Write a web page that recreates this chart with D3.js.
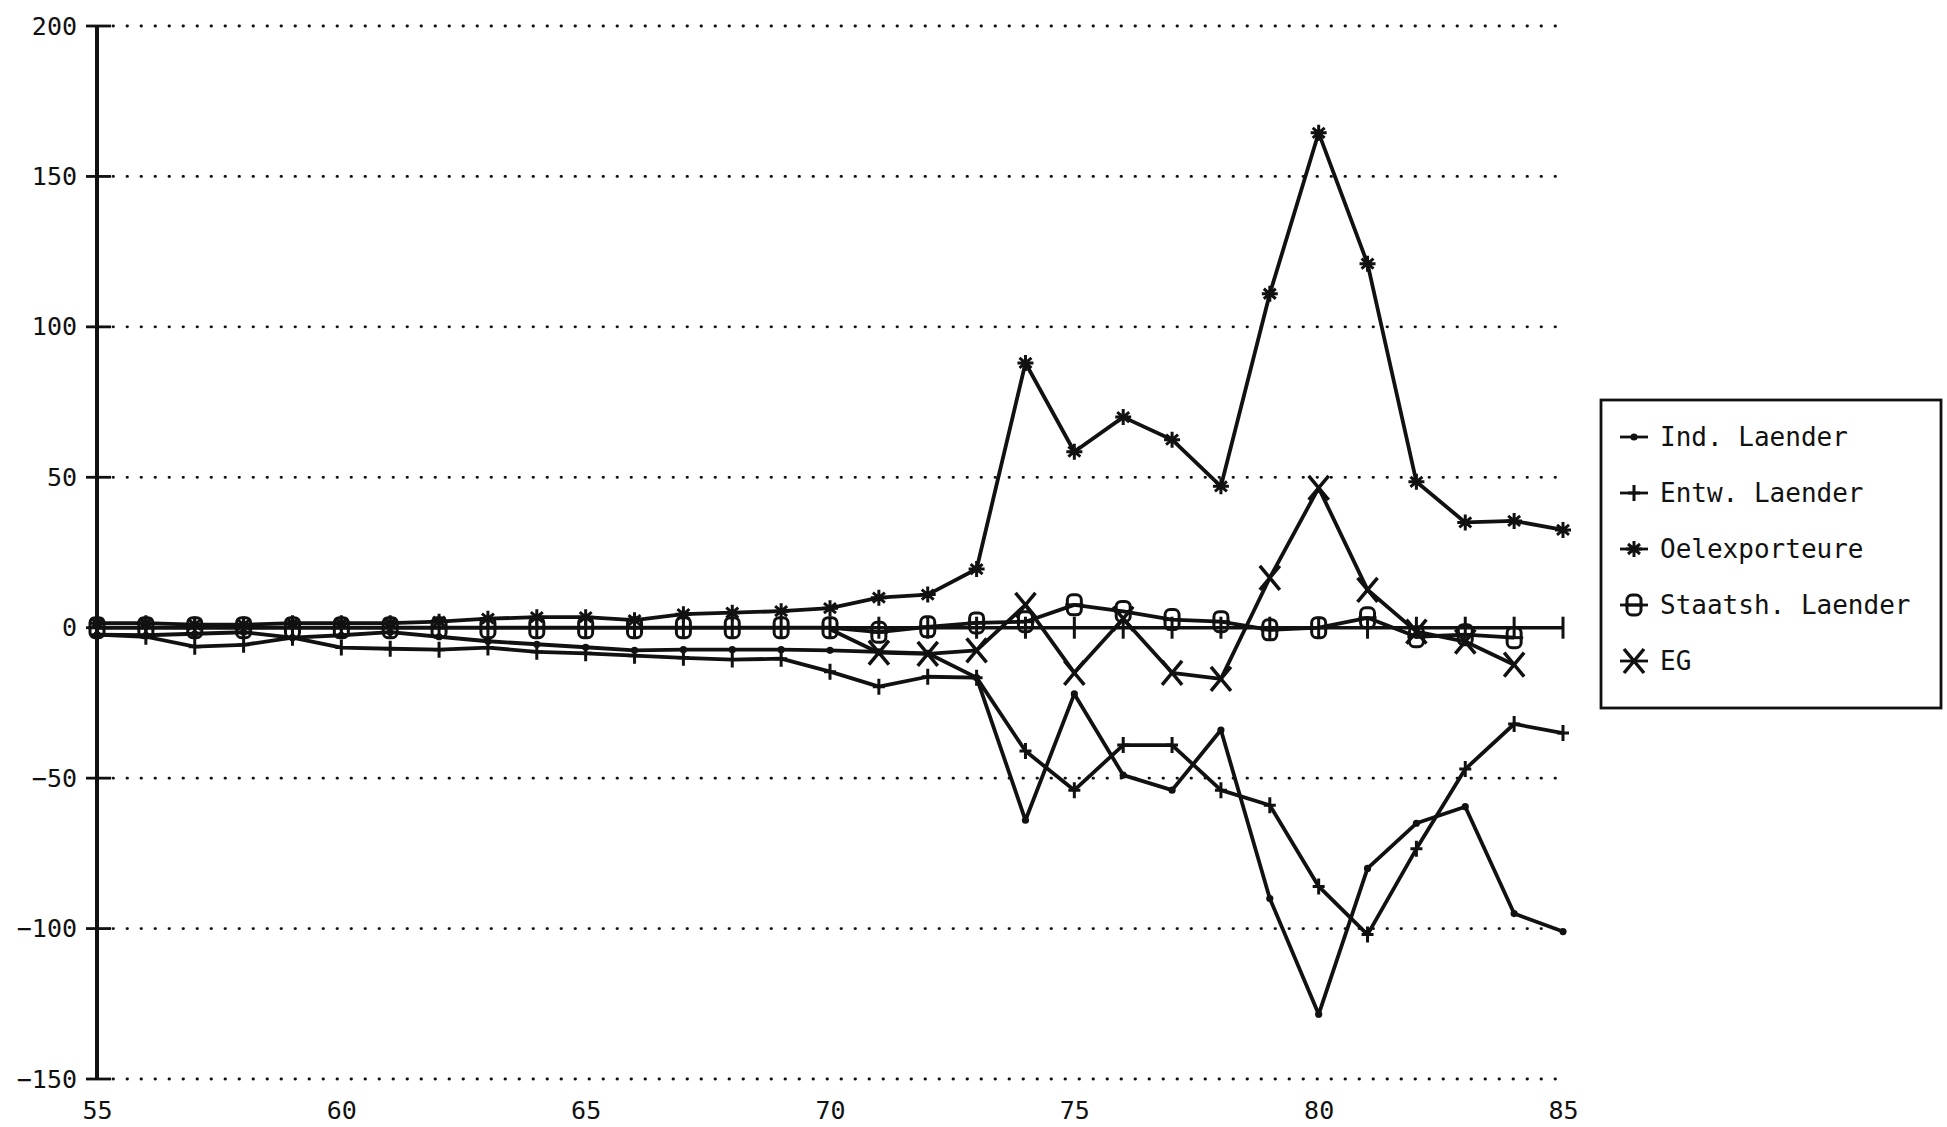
<!DOCTYPE html>
<html>
<head>
<meta charset="utf-8">
<script src="https://cdn.jsdelivr.net/npm/d3@7"></script>
<style>
  body { margin: 0; background: #fff; }
  text { font-family: "DejaVu Sans Mono", monospace; fill: #111; }
</style>
</head>
<body>
<div id="chart"></div>
<script>
// Data (years 55..85)
const years = d3.range(55, 86);
const indLaender = [-2.3, -2.5, -2, -1.5, -3.3, -2.5, -1.5, -3, -4.5, -5.5, -6.5, -7.5, -7.3, -7.3, -7.3, -7.5,
  -8, -8.5, -16.6, -64, -22, -49, -54, -34, -90, -128.5, -80, -65, -59.5, -95, -101];
const entwLaender = [-2.3, -3, -6.3, -5.7, -3.3, -6.6, -7, -7.3, -6.6, -8, -8.5, -9.3, -10, -10.6, -10.3, -14.6,
  -19.6, -16.3, -16.6, -41, -54, -39, -39, -54, -59, -86, -102, -73.5, -47, -32, -35];
const oelexporteure = [1.5, 1.5, 1, 1, 1.5, 1.5, 1.5, 2, 3, 3.5, 3.5, 2.5, 4.5, 5, 5.5, 6.5,
  10, 11, 19.5, 88, 58.5, 70, 62.5, 47, 111, 164.5, 121, 48.5, 35, 35.5, 32.5];
const staatshLaender = [0, 0, 0, 0, 0, 0, 0, 0, 0, 0, 0, 0, 0, 0, 0, 0,
  -1.5, 0.3, 1.6, 2, 7.6, 5.4, 2.7, 2, -0.7, 0, 3.3, -3, -2.3, -3.3, null];
const eg = [null, null, null, null, null, null, null, null, null, null, null, null, null, null, null, -0.5,
  -8.3, -8.7, -7.5, 7.6, -15, 3, -15, -17, 16.6, 46.5, 12.6, -1.3, -4.6, -12.3, null];

const seriesNames = ["Ind. Laender", "Entw. Laender", "Oelexporteure", "Staatsh. Laender", "EG"];
const seriesValues = [indLaender, entwLaender, oelexporteure, staatshLaender, eg];
const markerTypes = ["dot", "plus", "star", "box", "x"];
// first year that carries a visible marker for each series
const markerFrom = [55, 55, 55, 55, 71];

const xTickLabels = [55, 60, 65, 70, 75, 80, 85];
const yTickValues = [-150, -100, -50, 0, 50, 100, 150, 200];

const WIDTH = 1947;
const HEIGHT = 1127;
const INK = "#111";

var svg = d3.select("#chart").append("svg")
  .attr("width", WIDTH)
  .attr("height", HEIGHT);

var x = d3.scaleLinear().domain([55, 85]).range([97, 1563]);
var y = d3.scaleLinear().domain([-150, 200]).range([1079, 26]);

// Dotted grid lines (not at 0, that one is the solid axis)
svg.append("g")
  .selectAll("line")
  .data(yTickValues.filter(d => d !== 0))
  .enter()
  .append("line")
  .attr("x1", 113)
  .attr("x2", 1568)
  .attr("y1", d => y(d))
  .attr("y2", d => y(d))
  .attr("stroke", INK)
  .attr("stroke-width", 2.8)
  .attr("stroke-linecap", "round")
  .attr("stroke-dasharray", "0.5 13.5");

// Y axis with labels
var yAxis = d3.axisLeft(y).tickValues(yTickValues).tickSize(0).tickPadding(20);
var gy = svg.append("g").attr("transform", `translate(${x(55)},0)`).call(yAxis);
gy.select(".domain").remove();
gy.selectAll("text")
  .style("font-size", "25px")
  .style("font-family", "'DejaVu Sans Mono', monospace")
  .attr("fill", INK);

svg.append("line")
  .attr("x1", x(55)).attr("x2", x(55))
  .attr("y1", y(200)).attr("y2", y(-150))
  .attr("stroke", INK).attr("stroke-width", 4);

svg.append("g")
  .selectAll("line")
  .data(yTickValues)
  .enter()
  .append("line")
  .attr("x1", x(55) - 11)
  .attr("x2", x(55) + 14)
  .attr("y1", d => y(d))
  .attr("y2", d => y(d))
  .attr("stroke", INK)
  .attr("stroke-width", 2.8);

// X axis at zero with a tick per year
svg.append("line")
  .attr("x1", x(55)).attr("x2", x(85))
  .attr("y1", y(0)).attr("y2", y(0))
  .attr("stroke", INK).attr("stroke-width", 3.6);

svg.append("g")
  .selectAll("line")
  .data(years)
  .enter()
  .append("line")
  .attr("x1", d => x(d)).attr("x2", d => x(d))
  .attr("y1", y(0) - 11).attr("y2", y(0) + 11)
  .attr("stroke", INK).attr("stroke-width", 3);

// X labels at the bottom
var xAxis = d3.axisBottom(x).tickValues(xTickLabels).tickSize(0).tickPadding(22);
var gx = svg.append("g").attr("transform", `translate(0,${y(-150)})`).call(xAxis);
gx.select(".domain").remove();
gx.selectAll("text")
  .style("font-size", "25px")
  .style("font-family", "'DejaVu Sans Mono', monospace")
  .attr("fill", INK);

/**
 * Draws one marker of the given type at (cx, cy)
 */
function drawMarker(g, type, cx, cy) {
  var m = g.append("g").attr("transform", `translate(${cx},${cy})`);
  if (type === "dot") {
    m.append("circle").attr("r", 3.6).attr("fill", INK);
  } else if (type === "plus") {
    m.append("path").attr("d", "M0,-8V8M-6,0H6")
      .attr("stroke", INK).attr("stroke-width", 3);
  } else if (type === "star") {
    m.append("path").attr("d", "M0,-8V8M-6,-5L6,5M-6,5L6,-5M-8,0H8")
      .attr("stroke", INK).attr("stroke-width", 3);
  } else if (type === "box") {
    m.append("rect").attr("x", -7).attr("y", -10).attr("width", 14).attr("height", 20)
      .attr("rx", 5).attr("fill", "none")
      .attr("stroke", INK).attr("stroke-width", 3);
    m.append("path").attr("d", "M-9,0H9").attr("stroke", INK).attr("stroke-width", 3);
  } else if (type === "x") {
    m.append("path").attr("d", "M-10,-12L10,12M-10,12L10,-12")
      .attr("stroke", INK).attr("stroke-width", 3.5);
  }
}

var line = d3.line()
  .defined(d => d.v !== null)
  .x(d => x(d.year))
  .y(d => y(d.v));

seriesValues.forEach(function (vals, i) {
  var pts = years.map((yr, j) => ({ year: yr, v: vals[j] }));
  var g = svg.append("g");
  g.append("path")
    .datum(pts)
    .attr("d", line)
    .attr("fill", "none")
    .attr("stroke", INK)
    .attr("stroke-width", 3.8)
    .attr("stroke-linejoin", "round");
  pts.filter(p => p.v !== null && p.year >= markerFrom[i])
    .forEach(p => drawMarker(g, markerTypes[i], x(p.year), y(p.v)));
});

// Legend
var legend = svg.append("g");
legend.append("rect")
  .attr("x", 1601).attr("y", 400)
  .attr("width", 340).attr("height", 308)
  .attr("fill", "#fff").attr("stroke", INK).attr("stroke-width", 2.8);

seriesNames.forEach(function (name, i) {
  var ly = 437 + i * 56;
  legend.append("line")
    .attr("x1", 1620).attr("x2", 1648)
    .attr("y1", ly).attr("y2", ly)
    .attr("stroke", INK).attr("stroke-width", 2.8);
  drawMarker(legend, markerTypes[i], 1634, ly);
  legend.append("text")
    .attr("x", 1660).attr("y", ly)
    .attr("dy", "0.36em")
    .style("font-size", "26px")
    .text(name);
});
</script>
</body>
</html>
